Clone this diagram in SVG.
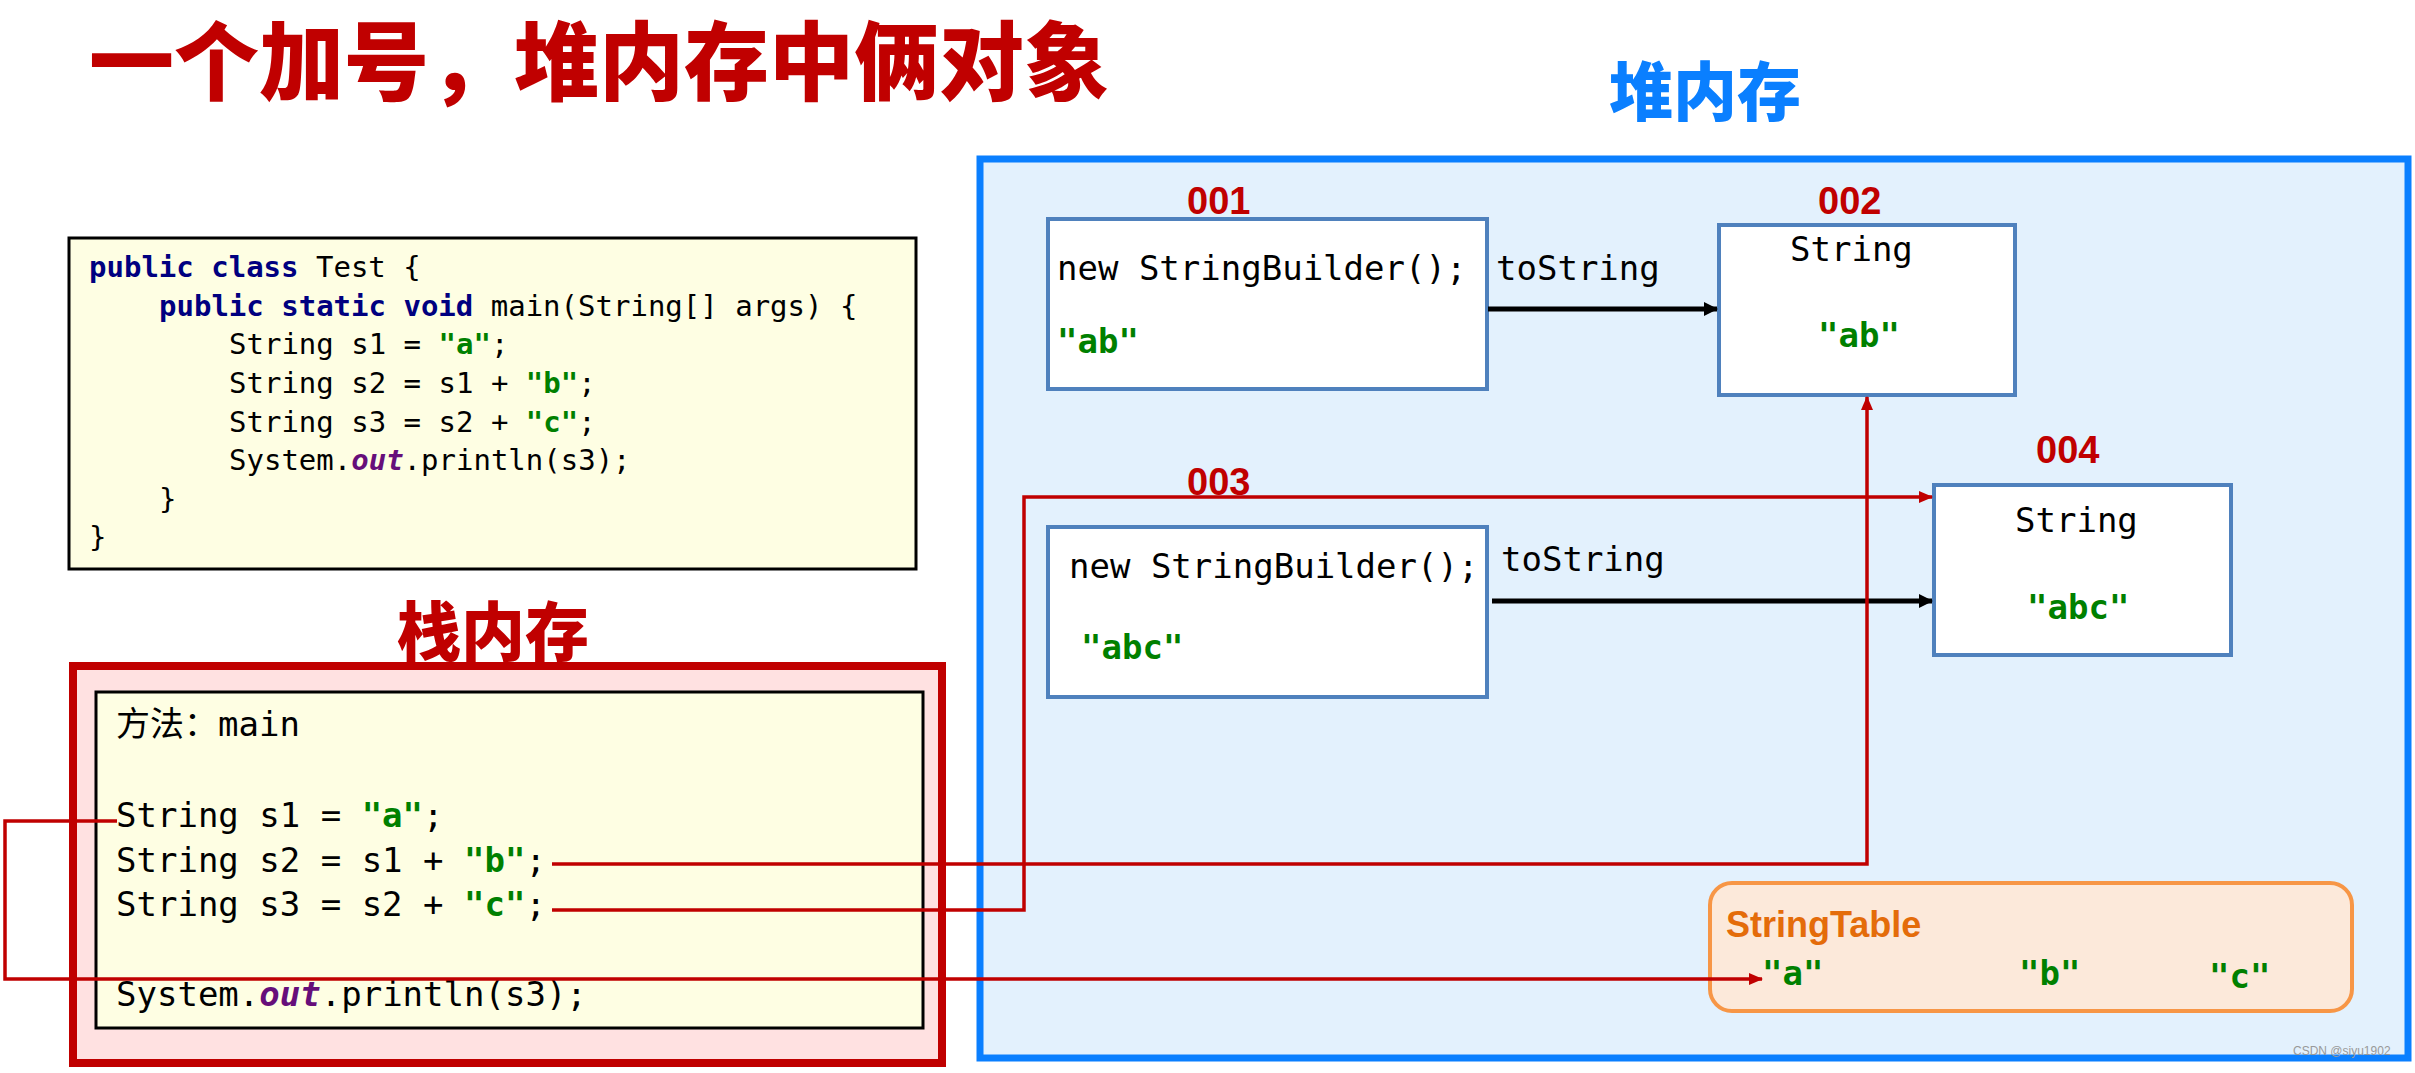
<svg xmlns="http://www.w3.org/2000/svg" width="2415" height="1073" viewBox="0 0 2415 1073">
<style>
.code{font-family:"DejaVu Sans Mono","Liberation Mono",monospace;font-size:29px;fill:#000}
.mono{font-family:"DejaVu Sans Mono","Liberation Mono","Noto Sans CJK SC",monospace;font-size:34px;fill:#000}
.kw{fill:#000080;font-weight:bold}
.str{fill:#008000;font-weight:bold}
.out{fill:#660E7A;font-weight:bold;font-style:italic}
.cjk{font-family:"Noto Sans CJK SC",sans-serif;font-weight:900}
.addr{font-family:"Liberation Sans","Noto Sans",sans-serif;font-weight:bold;font-size:38px;fill:#C00000}
.obj{fill:#fff;stroke:#4F81BD;stroke-width:4}
.red{fill:none;stroke:#C00000;stroke-width:3.5}
.blk{fill:none;stroke:#000;stroke-width:5}
</style>
<defs>
<marker id="ar" markerWidth="14" markerHeight="12" refX="13" refY="6" orient="auto" markerUnits="userSpaceOnUse"><path d="M0,0 L14,6 L0,12 Z" fill="#C00000"/></marker>
<marker id="ab" markerWidth="14" markerHeight="14" refX="13" refY="7" orient="auto" markerUnits="userSpaceOnUse"><path d="M0,0 L14,7 L0,14 Z" fill="#000"/></marker>
</defs>
<rect width="2415" height="1073" fill="#fff"/>
<text x="89" y="94" class="cjk" font-size="86" fill="#C00000" textLength="1020" lengthAdjust="spacingAndGlyphs">一个加号，堆内存中俩对象</text>

<g id="code">
<rect x="69" y="238" width="847" height="331" fill="#FEFEE3" stroke="#000" stroke-width="3"/>
<text class="code" x="89" y="277"><tspan class="kw">public class</tspan> Test {</text>
<text class="code" x="159" y="316"><tspan class="kw">public static void</tspan> main(String[] args) {</text>
<text class="code" x="229" y="354">String s1 = <tspan class="str">"a"</tspan>;</text>
<text class="code" x="229" y="393">String s2 = s1 + <tspan class="str">"b"</tspan>;</text>
<text class="code" x="229" y="432">String s3 = s2 + <tspan class="str">"c"</tspan>;</text>
<text class="code" x="229" y="470">System.<tspan class="out">out</tspan>.println(s3);</text>
<text class="code" x="159" y="509">}</text>
<text class="code" x="89" y="547">}</text>
</g>

<g id="stack">
<text x="397" y="655" class="cjk" font-size="64" fill="#C00000">栈内存</text>
<rect x="73" y="666" width="869" height="397" fill="#FFE1E1" stroke="#C00000" stroke-width="8"/>
<rect x="96" y="692" width="827" height="336" fill="#FEFEE3" stroke="#000" stroke-width="3"/>
<text class="mono" x="116" y="736">方法：main</text>
<text class="mono" x="116" y="827">String s1 = <tspan class="str">"a"</tspan>;</text>
<text class="mono" x="116" y="872">String s2 = s1 + <tspan class="str">"b"</tspan>;</text>
<text class="mono" x="116" y="916">String s3 = s2 + <tspan class="str">"c"</tspan>;</text>
<text class="mono" x="116" y="1006">System.<tspan class="out">out</tspan>.println(s3);</text>
</g>

<g id="heap">
<text x="1609" y="115" class="cjk" font-size="64" fill="#0A7FFF">堆内存</text>
<rect x="980" y="159" width="1428" height="899" fill="#E3F1FD" stroke="#0A7FFF" stroke-width="7"/>
</g>

<g id="n001">
<text class="addr" x="1187" y="214">001</text>
<rect class="obj" x="1048" y="219" width="439" height="170"/>
<text class="mono" x="1057" y="280">new StringBuilder();</text>
<text class="mono str" x="1057" y="353">"ab"</text>
</g>
<g id="n002">
<text class="addr" x="1818" y="214">002</text>
<rect class="obj" x="1719" y="225" width="296" height="170"/>
<text class="mono" x="1790" y="261">String</text>
<text class="mono str" x="1818" y="347">"ab"</text>
</g>
<g id="n003">
<text class="addr" x="1187" y="495">003</text>
<rect class="obj" x="1048" y="527" width="439" height="170"/>
<text class="mono" x="1069" y="578">new StringBuilder();</text>
<text class="mono str" x="1081" y="659">"abc"</text>
</g>
<g id="n004">
<text class="addr" x="2036" y="463">004</text>
<rect class="obj" x="1934" y="485" width="297" height="170"/>
<text class="mono" x="2015" y="532">String</text>
<text class="mono str" x="2027" y="619">"abc"</text>
</g>
<g id="stringtable">
<rect x="1710" y="883" width="642" height="128" rx="22" fill="#FCE9DA" stroke="#F79646" stroke-width="4"/>
<text x="1726" y="937" font-family="Liberation Sans,sans-serif" font-weight="bold" font-size="36" fill="#E46C0A">StringTable</text>
<text class="mono str" x="1762" y="985">"a"</text>
<text class="mono str" x="2019" y="985">"b"</text>
<text class="mono str" x="2209" y="988">"c"</text>
</g>

<g id="connectors">
<path class="blk" d="M1488,309 H1717" marker-end="url(#ab)"/>
<text class="mono" x="1496" y="280">toString</text>
<path class="blk" d="M1492,601 H1932" marker-end="url(#ab)"/>
<text class="mono" x="1501" y="571">toString</text>
<path class="red" d="M117,821 H5 V979 H1762" marker-end="url(#ar)"/>
<path class="red" d="M552,864 H1867 V397" marker-end="url(#ar)"/>
<path class="red" d="M552,910 H1024 V497 H1932" marker-end="url(#ar)"/>
</g>
<text x="2293" y="1055" font-family="Liberation Sans,sans-serif" font-size="12" fill="#999">CSDN @siyu1902</text>
</svg>
